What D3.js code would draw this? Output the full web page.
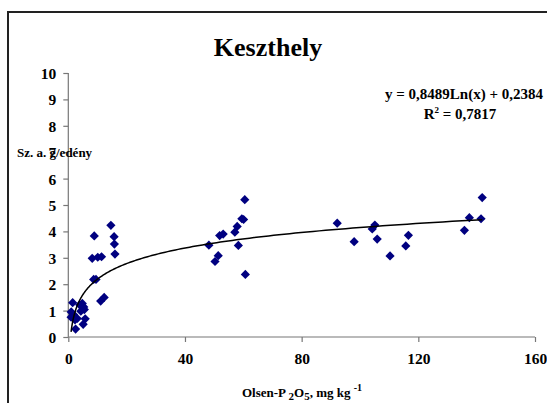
<!DOCTYPE html>
<html><head><meta charset="utf-8">
<script src="https://cdn.jsdelivr.net/npm/d3@7"></script>
<style>html,body{margin:0;padding:0;background:#fff;}svg text{font-family:"Times New Roman","Liberation Serif",Tinos,"DejaVu Serif",serif !important;font-weight:bold;}</style>
</head><body>
<svg id="c" width="547" height="403"></svg>
<script>
const title = "Keszthely";
const xTicks = [0, 40, 80, 120, 160];
const yTicks = [0, 1, 2, 3, 4, 5, 6, 7, 8, 9, 10];
const olsenP = [0.95,1.0,1.5,1.8,2.3,2.5,3.1,3.9,4.3,4.8,5.3,5.5,5.1,5.8,
  8.9,8.2,10.1,11.4,8.7,9.5,11.1,12.3,14.6,15.7,15.8,16.0,
  48.2,50.3,51.4,51.9,53.1,57.1,57.9,58.3,59.5,60.1,60.5,60.7,
  92.2,98.0,104.2,105.1,105.9,110.3,115.7,116.6,135.8,137.5,141.5,141.9];
const yieldG = [0.75,0.95,1.3,0.85,0.65,0.3,0.7,1.22,0.98,1.27,1.14,1.04,0.48,0.69,
  3.83,2.98,3.02,3.04,2.18,2.18,1.36,1.5,4.23,3.80,3.52,3.14,
  3.48,2.86,3.08,3.84,3.90,3.97,4.19,3.47,4.48,4.45,5.2,2.37,
  4.31,3.61,4.09,4.24,3.71,3.07,3.45,3.85,4.04,4.52,4.48,5.28];
const trendA = 0.8489, trendB = 0.2384;
const eqText = "y = 0,8489Ln(x) + 0,2384";
const r2Value = "0,7817";

const svg = d3.select("#c");
svg.append("rect").attr("x",8).attr("y",12).attr("width",580).attr("height",440)
  .attr("fill","none").attr("stroke","#222").attr("stroke-width",2);

const x = d3.scaleLinear().domain([0,160]).range([68.3,535]);
const y = d3.scaleLinear().domain([0,10]).range([337,73]);

const gx = svg.append("g").attr("transform","translate(0,337)")
  .call(d3.axisBottom(x).tickValues(xTicks).tickSize(5).tickPadding(11).tickFormat(d3.format("d")));
const gy = svg.append("g").attr("transform","translate(68.3,0)")
  .call(d3.axisLeft(y).tickValues(yTicks).tickSize(5).tickPadding(7).tickFormat(d3.format("d")));
[gx,gy].forEach(g=>{
  g.selectAll("line").attr("stroke","#777").attr("stroke-width",1.2);
  g.select(".domain").remove();
  g.selectAll("text").attr("font-size","15.5px").attr("fill","#000");
});
gy.selectAll("text").attr("dy","0.36em");
svg.append("line").attr("x1",x(0)).attr("x2",x(160)).attr("y1",y(0)).attr("y2",y(0)).attr("stroke","#777").attr("stroke-width",1.2);
svg.append("line").attr("x1",x(0)).attr("x2",x(0)).attr("y1",y(0)).attr("y2",y(10)).attr("stroke","#777").attr("stroke-width",1.2);

// points
const pts = olsenP.map((v,i)=>[v,yieldG[i]]);
const r = 4.6;
svg.append("g").selectAll("path").data(pts).join("path")
  .attr("d", d=>{const cx=x(d[0]), cy=y(d[1]); return `M${cx},${cy-r}L${cx+r},${cy}L${cx},${cy+r}L${cx-r},${cy}Z`;})
  .attr("fill","#000080");

// trendline
const xmin = d3.min(olsenP), xmax = d3.max(olsenP);
const tr = d3.range(0,201).map(i=>{const v = xmin*Math.pow(xmax/xmin,i/200); return [v, trendA*Math.log(v)+trendB];});
svg.append("path").datum(tr).attr("fill","none").attr("stroke","#000").attr("stroke-width",1.5)
  .attr("d", d3.line().x(d=>x(d[0])).y(d=>y(d[1])));

// title
svg.append("text").attr("x",268).attr("y",56).attr("text-anchor","middle").attr("font-size","26px").text(title);

// equation
svg.append("text").attr("x",464).attr("y",99).attr("text-anchor","middle").attr("font-size","15px").text(eqText);
const r2 = svg.append("text").attr("x",460).attr("y",119).attr("text-anchor","middle").attr("font-size","15px");
r2.append("tspan").text("R");
r2.append("tspan").attr("font-size","9px").attr("dy",-6).text("2");
r2.append("tspan").attr("dy",6).text(" = " + r2Value);

// y label
svg.append("text").attr("x",17).attr("y",157).attr("font-size","13px").text("Sz. a. g/edény");

// x label
const xl = svg.append("text").attr("x",242).attr("y",397).attr("font-size","13px");
xl.append("tspan").text("Olsen-P ");
xl.append("tspan").attr("dy",3).attr("font-size","11px").text("2");
xl.append("tspan").attr("dy",-3).text("O");
xl.append("tspan").attr("dy",3).attr("font-size","11px").text("5");
xl.append("tspan").attr("dy",-3).text(", mg kg ");
xl.append("tspan").attr("dy",-6).attr("font-size","10px").text("-1");
</script>
</body></html>
